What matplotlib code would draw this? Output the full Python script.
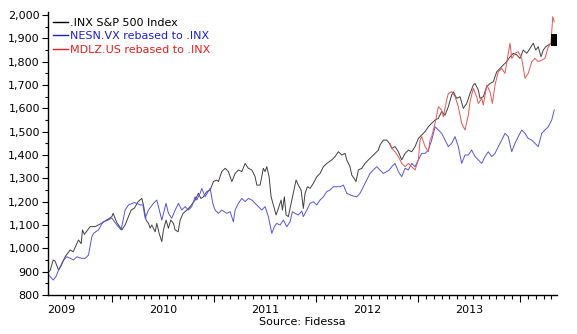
import matplotlib
matplotlib.use("Agg")
import matplotlib.pyplot as plt
from matplotlib.ticker import FuncFormatter, FixedLocator, NullFormatter
import numpy as np

# ---- data (decimal years, index values) ----
spx_t = [2008.868, 2008.892, 2008.922, 2008.941, 2008.974, 2009.000, 2009.039, 2009.088, 2009.118, 2009.170,
         2009.196, 2009.209, 2009.228, 2009.284, 2009.333, 2009.399, 2009.441, 2009.497, 2009.510, 2009.546,
         2009.595, 2009.627, 2009.686, 2009.719, 2009.755, 2009.791, 2009.807, 2009.833, 2009.856, 2009.873,
         2009.889, 2009.922, 2009.938, 2009.961, 2009.987, 2010.003, 2010.029, 2010.052, 2010.075, 2010.101,
         2010.118, 2010.147, 2010.167, 2010.196, 2010.232, 2010.265, 2010.314, 2010.346, 2010.370, 2010.395,
         2010.428, 2010.461, 2010.493, 2010.526, 2010.542, 2010.575, 2010.608, 2010.640, 2010.674, 2010.706,
         2010.738, 2010.772, 2010.804, 2010.836, 2010.870, 2010.902, 2010.919, 2010.951, 2010.983, 2011.000,
         2011.017, 2011.039, 2011.059, 2011.081, 2011.108, 2011.130, 2011.157, 2011.170, 2011.189, 2011.206,
         2011.228, 2011.262, 2011.304, 2011.326, 2011.353, 2011.375, 2011.392, 2011.415, 2011.441, 2011.474,
         2011.507, 2011.539, 2011.572, 2011.605, 2011.654, 2011.686, 2011.719, 2011.752, 2011.784, 2011.801,
         2011.833, 2011.850, 2011.873, 2011.892, 2011.915, 2011.948, 2011.980, 2012.013, 2012.046, 2012.078,
         2012.111, 2012.127, 2012.160, 2012.193, 2012.219, 2012.242, 2012.275, 2012.307, 2012.340, 2012.373,
         2012.405, 2012.438, 2012.471, 2012.503, 2012.536, 2012.569, 2012.601, 2012.634, 2012.667, 2012.699,
         2012.732, 2012.765, 2012.797, 2012.830, 2012.846, 2012.879, 2012.912, 2012.944, 2012.977, 2013.010,
         2013.042, 2013.059, 2013.091, 2013.108, 2013.140, 2013.174, 2013.206, 2013.238, 2013.272, 2013.304,
         2013.336, 2013.370, 2013.402, 2013.434, 2013.468, 2013.500, 2013.532, 2013.566, 2013.598, 2013.630,
         2013.654, 2013.679, 2013.706, 2013.728, 2013.752, 2013.777, 2013.804, 2013.833]
spx_v = [895, 905, 950, 945, 907, 925, 964, 993, 985, 1036,
         1020, 1079, 1060, 1093, 1093, 1108, 1120, 1136, 1150, 1110,
         1079, 1100, 1164, 1173, 1200, 1214, 1186, 1121, 1107, 1087,
         1100, 1071, 1107, 1064, 1029, 1079, 1121, 1086, 1121, 1107,
         1079, 1071, 1121, 1150, 1164, 1179, 1207, 1236, 1214, 1221,
         1243, 1250, 1286, 1293, 1286, 1329, 1343, 1329, 1286, 1321,
         1336, 1329, 1364, 1343, 1336, 1307, 1271, 1271, 1343, 1329,
         1350, 1307, 1221, 1186, 1143, 1171, 1207, 1164, 1221, 1143,
         1136, 1207, 1293, 1271, 1250, 1171, 1236, 1264, 1257, 1279,
         1307, 1321, 1350, 1364, 1379, 1393, 1414, 1400, 1407, 1379,
         1350, 1314, 1300, 1286, 1336, 1343, 1364, 1379, 1393, 1407,
         1421, 1443, 1464, 1464, 1450, 1429, 1436, 1414, 1379, 1407,
         1421, 1414, 1436, 1471, 1486, 1500, 1521, 1536, 1550, 1557,
         1586, 1571, 1607, 1657, 1671, 1643, 1650, 1600, 1621, 1664,
         1700, 1707, 1679, 1643, 1650, 1693, 1707, 1714, 1757, 1771,
         1786, 1800, 1821, 1836, 1829, 1814, 1850, 1836, 1857, 1879,
         1850, 1864, 1821, 1850, 1864, 1871, 1879, 1893]

nesn_t = [2008.868, 2008.892, 2008.922, 2008.951, 2008.974, 2009.000, 2009.023, 2009.056, 2009.088, 2009.121,
          2009.154, 2009.203, 2009.235, 2009.268, 2009.301, 2009.317, 2009.366, 2009.412, 2009.461, 2009.497,
          2009.546, 2009.588, 2009.627, 2009.660, 2009.716, 2009.742, 2009.775, 2009.801, 2009.824, 2009.856,
          2009.905, 2009.938, 2009.971, 2009.987, 2010.029, 2010.052, 2010.085, 2010.118, 2010.150, 2010.183,
          2010.216, 2010.248, 2010.281, 2010.314, 2010.330, 2010.363, 2010.379, 2010.412, 2010.461, 2010.487,
          2010.510, 2010.542, 2010.575, 2010.625, 2010.657, 2010.689, 2010.706, 2010.738, 2010.772, 2010.804,
          2010.836, 2010.870, 2010.902, 2010.934, 2010.968, 2011.000, 2011.032, 2011.066, 2011.091, 2011.115,
          2011.147, 2011.179, 2011.213, 2011.245, 2011.268, 2011.294, 2011.326, 2011.360, 2011.375, 2011.409,
          2011.441, 2011.474, 2011.507, 2011.539, 2011.572, 2011.605, 2011.637, 2011.670, 2011.703, 2011.735,
          2011.768, 2011.801, 2011.833, 2011.866, 2011.899, 2011.931, 2011.964, 2011.997, 2012.029, 2012.062,
          2012.095, 2012.127, 2012.160, 2012.193, 2012.219, 2012.242, 2012.275, 2012.307, 2012.340, 2012.373,
          2012.405, 2012.438, 2012.471, 2012.503, 2012.536, 2012.569, 2012.601, 2012.634, 2012.667, 2012.699,
          2012.732, 2012.765, 2012.797, 2012.830, 2012.863, 2012.895, 2012.928, 2012.961, 2012.993, 2013.026,
          2013.059, 2013.091, 2013.125, 2013.157, 2013.189, 2013.223, 2013.255, 2013.287, 2013.321, 2013.353,
          2013.385, 2013.419, 2013.451, 2013.483, 2013.517, 2013.549, 2013.581, 2013.615, 2013.647, 2013.679,
          2013.713, 2013.745, 2013.777, 2013.811, 2013.836]
nesn_v = [890, 879, 864, 880, 907, 930, 950, 964, 957, 950,
          964, 957, 957, 971, 1050, 1064, 1079, 1114, 1121, 1130,
          1100, 1079, 1164, 1186, 1196, 1193, 1186, 1186, 1129, 1164,
          1193, 1207, 1150, 1121, 1193, 1150, 1129, 1164, 1193, 1164,
          1179, 1164, 1179, 1221, 1207, 1236, 1257, 1221, 1257, 1193,
          1164, 1150, 1164, 1150, 1157, 1114, 1164, 1193, 1214, 1200,
          1214, 1207, 1193, 1179, 1164, 1179, 1136, 1064, 1093, 1107,
          1100, 1121, 1093, 1114, 1157, 1150, 1143, 1160, 1136, 1164,
          1193, 1200, 1186, 1207, 1221, 1243, 1250, 1264, 1264, 1264,
          1271, 1236, 1229, 1224, 1221, 1236, 1264, 1293, 1321, 1336,
          1350, 1336, 1321, 1329, 1336, 1350, 1364, 1329, 1307, 1343,
          1336, 1364, 1350, 1379, 1407, 1407, 1421, 1464, 1521, 1507,
          1493, 1464, 1436, 1450, 1479, 1436, 1364, 1400, 1400, 1421,
          1393, 1379, 1364, 1393, 1414, 1393, 1407, 1436, 1464, 1493,
          1479, 1414, 1450, 1479, 1507, 1493, 1471, 1464, 1450, 1436,
          1493, 1507, 1521, 1550, 1593]

mdlz_t = [2012.225, 2012.242, 2012.275, 2012.307, 2012.340, 2012.373, 2012.405, 2012.438, 2012.471, 2012.503,
          2012.520, 2012.536, 2012.569, 2012.601, 2012.618, 2012.634, 2012.667, 2012.699, 2012.732, 2012.748,
          2012.781, 2012.797, 2012.830, 2012.863, 2012.895, 2012.928, 2012.961, 2012.993, 2013.010, 2013.042,
          2013.075, 2013.091, 2013.125, 2013.140, 2013.174, 2013.206, 2013.229, 2013.255, 2013.287, 2013.321,
          2013.353, 2013.385, 2013.402, 2013.419, 2013.451, 2013.483, 2013.517, 2013.549, 2013.581, 2013.615,
          2013.647, 2013.679, 2013.713, 2013.745, 2013.777, 2013.804, 2013.821, 2013.836]
mdlz_v = [1450, 1429, 1414, 1393, 1364, 1350, 1364, 1350, 1336, 1379,
          1464, 1479, 1436, 1414, 1464, 1479, 1536, 1607, 1593, 1564,
          1636, 1664, 1671, 1650, 1607, 1536, 1507, 1571, 1629, 1686,
          1650, 1621, 1643, 1614, 1700, 1671, 1621, 1700, 1757, 1771,
          1750, 1836, 1879, 1814, 1836, 1843, 1814, 1729, 1750, 1800,
          1814, 1800, 1807, 1814, 1864, 1879, 1993, 1971]

year_labels = ["2009", "2010", "2011", "2012", "2013"]
year_pos = [2009, 2010, 2011, 2012, 2013]
series_names = [".INX S&P 500 Index", "NESN.VX rebased to .INX", "MDLZ.US rebased to .INX"]

# ---- figure ----
W, H = 577, 334
X0, X1 = 2008.866, 2013.858
fig = plt.figure(figsize=(W / 100, H / 100), dpi=100)
plt.rcParams['font.family'] = ['DejaVu Sans']
ax = fig.add_axes([47.5 / W, 1 - 295 / H, (556.5 - 47.5) / W, (295 - 12) / H])

c_blk, c_blu, c_red = '#404040', '#5555dd', '#e85555'
ax.plot(spx_t, spx_v, color=c_blk, lw=0.7, label=series_names[0])
ax.plot(nesn_t, nesn_v, color=c_blu, lw=0.7, label=series_names[1])
ax.plot(mdlz_t, mdlz_v, color=c_red, lw=0.7, label=series_names[2])
# end marker on S&P
rect = [(-0.55, -1), (0.55, -1), (0.55, 1), (-0.55, 1), (-0.55, -1)]
ax.plot(spx_t[-1], spx_v[-1], marker=rect, ms=8, color='black', mew=0, clip_on=False)

ax.set_xlim(X0, X1)
ax.set_ylim(800, 2013)

for s in ['top', 'right']:
    ax.spines[s].set_visible(False)
for s in ['left', 'bottom']:
    ax.spines[s].set_linewidth(1.0)
    ax.spines[s].set_color('black')

# y ticks
ax.yaxis.set_major_locator(FixedLocator(np.arange(800, 2001, 100)))
ax.yaxis.set_minor_locator(FixedLocator(np.arange(850, 2001, 100)))
ax.yaxis.set_major_formatter(FuncFormatter(lambda v, p: f"{v:,.0f}"))
ax.tick_params(axis='y', which='major', length=4.5, width=0.8, labelsize=8, pad=1, colors='black')
ax.tick_params(axis='y', which='minor', length=2.5, width=0.8)

# x tick marks: year boundaries (major) and 4-weekly (minor)
majors = [y + 0.5 for y in year_pos]
minors = sorted(set(round(m + k / 13, 4) for m in majors for k in range(-6, 7) if k != 0))
minors = [m for m in minors if X0 < m <= X1]
ax.xaxis.set_major_locator(FixedLocator(majors))
ax.xaxis.set_minor_locator(FixedLocator(minors))
ax.xaxis.set_major_formatter(NullFormatter())
ax.tick_params(axis='x', which='major', length=5, width=0.8)
ax.tick_params(axis='x', which='minor', length=3, width=0.8)

# year labels centred on each year
xtr = ax.get_xaxis_transform()
for yp, lab in zip(year_pos, year_labels):
    ax.text(yp, -0.053, lab, transform=xtr, ha='center', va='center', fontsize=8)

leg = ax.legend(loc='upper left', bbox_to_anchor=(4 / (556.5 - 47.5), 0.985), frameon=False,
                fontsize=8, handlelength=1.3, handletextpad=0.2, labelspacing=0.3,
                borderpad=0.15, borderaxespad=0, labelcolor=['black', '#2020c8', '#e02020'])
for line, col in zip(leg.get_lines(), ['black', '#2020c8', '#e02020']):
    line.set_color(col)
    line.set_linewidth(1.0)

fig.text(302 / W, 1 - 322 / H, "Source: Fidessa", ha='center', va='center', fontsize=8)

fig.savefig('out.png', dpi=100, facecolor='white')
